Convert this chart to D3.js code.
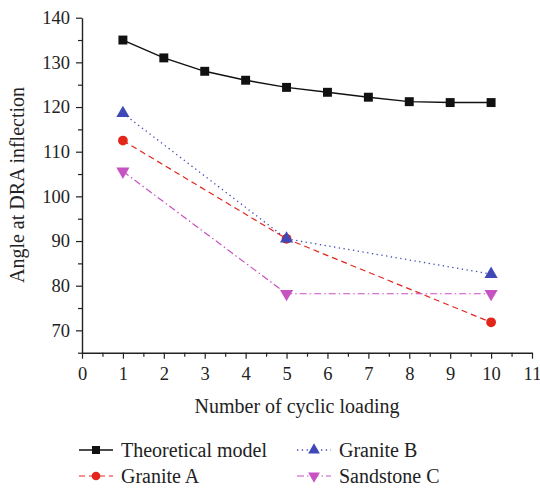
<!DOCTYPE html>
<html><head><meta charset="utf-8">
<script src="https://cdn.jsdelivr.net/npm/d3@7"></script>
<style>body{margin:0;background:#fff}svg{display:block}svg text{font-family:"Liberation Serif","Times New Roman",Times,serif !important}</style>
</head><body>
<svg id="c" width="540" height="489"></svg>
<script>
const xValsTheory = [1,2,3,4,5,6,7,8,9,10];
const theoretical = [135,131,128,126,124.4,123.3,122.2,121.2,121,121];
const xValsExp = [1,5,10];
const graniteA = [112.5,90.5,71.8];
const graniteB = [118.6,90.5,82.6];
const sandstoneC = [105.6,78.2,78.2];
const xTicks = [0,1,2,3,4,5,6,7,8,9,10,11];
const yTicks = [70,80,90,100,110,120,130,140];
const seriesNames = ["Theoretical model","Granite A","Granite B","Sandstone C"];

const svg = d3.select("#c");
const font = '"Liberation Serif","Times New Roman",serif';
const x = d3.scaleLinear().domain([0,11]).range([82,532]);
const y = d3.scaleLinear().domain([65,140]).range([352.7,17.7]);

// axes
const xAxis = d3.axisBottom(x).tickValues(xTicks).tickSize(6).tickSizeOuter(0).tickPadding(8);
svg.append("g").attr("transform","translate(0,352.7)").call(xAxis);
const xMinor = d3.axisBottom(x).tickValues(d3.range(0.5,11,1)).tickSize(4).tickFormat("").tickSizeOuter(0);
svg.append("g").attr("transform","translate(0,352.7)").call(xMinor).select(".domain").remove();
const yAxis = d3.axisLeft(y).tickValues(yTicks).tickSize(6).tickSizeOuter(0).tickPadding(6);
svg.append("g").attr("transform","translate(82,0)").call(yAxis);
const yMinor = d3.axisLeft(y).tickValues([65,75,85,95,105,115,125,135]).tickSize(4).tickFormat("").tickSizeOuter(0);
svg.append("g").attr("transform","translate(82,0)").call(yMinor).select(".domain").remove();
svg.selectAll("g").attr("font-family",null);
svg.selectAll(".domain").attr("stroke","#222").attr("stroke-width",1.4);
svg.selectAll(".tick line").attr("stroke","#222").attr("stroke-width",1.2);
svg.selectAll(".tick text").style("font-family",font).style("font-size","18.5px").attr("fill","#222");

svg.append("text").attr("x",297).attr("y",413).attr("text-anchor","middle")
  .style("font-family",font).style("font-size","20px").attr("fill","#222").text("Number of cyclic loading");
svg.append("text").attr("transform","translate(24,185) rotate(-90)").attr("text-anchor","middle")
  .style("font-family",font).style("font-size","20px").attr("fill","#222").text("Angle at DRA inflection");

const line = d3.line().x(d=>x(d[0])).y(d=>y(d[1]));
const series = [
  {name:seriesNames[0], xs:xValsTheory, ys:theoretical, color:"#111", dash:null, sw:1.4, sym:d3.symbolSquare, size:80, rot:0},
  {name:seriesNames[1], xs:xValsExp, ys:graniteA, color:"#e3261b", dash:"6,4", sw:1.2, sym:d3.symbolCircle, size:75, rot:0},
  {name:seriesNames[2], xs:xValsExp, ys:graniteB, color:"#4048b5", dash:"1.3,3.5", sw:1.3, sym:d3.symbolTriangle, size:75, rot:0},
  {name:seriesNames[3], xs:xValsExp, ys:sandstoneC, color:"#c752c2", dash:"7,3,1.5,3", sw:1.2, sym:d3.symbolTriangle, size:75, rot:180}
];
series.forEach(s=>{
  const pts = s.xs.map((v,i)=>[v,s.ys[i]]);
  svg.append("path").attr("d",line(pts)).attr("fill","none")
    .attr("stroke",s.color).attr("stroke-width",s.sw).attr("stroke-dasharray",s.dash);
});
series.forEach(s=>{
  const pts = s.xs.map((v,i)=>[v,s.ys[i]]);
  svg.selectAll(null).data(pts).enter().append("path")
    .attr("d",d3.symbol().type(s.sym).size(s.size))
    .attr("transform",d=>`translate(${x(d[0])},${y(d[1])}) rotate(${s.rot})`)
    .attr("fill",s.color);
});

// legend
const legPos = [[79,450],[79,476],[297,450],[297,476]];
series.forEach((s,i)=>{
  const [lx,ly] = legPos[i];
  const g = svg.append("g").attr("transform",`translate(${lx},${ly})`);
  g.append("line").attr("x1",0).attr("x2",34).attr("y1",0).attr("y2",0)
    .attr("stroke",s.color).attr("stroke-width",s.sw).attr("stroke-dasharray",s.dash);
  g.append("path").attr("d",d3.symbol().type(s.sym).size(s.size*0.8)).attr("transform",`translate(17,0) rotate(${s.rot})`).attr("fill",s.color);
  g.append("text").attr("x",42).attr("y",6.5).style("font-family",font).style("font-size","20px").attr("fill","#222").text(s.name);
});
</script>
</body></html>
